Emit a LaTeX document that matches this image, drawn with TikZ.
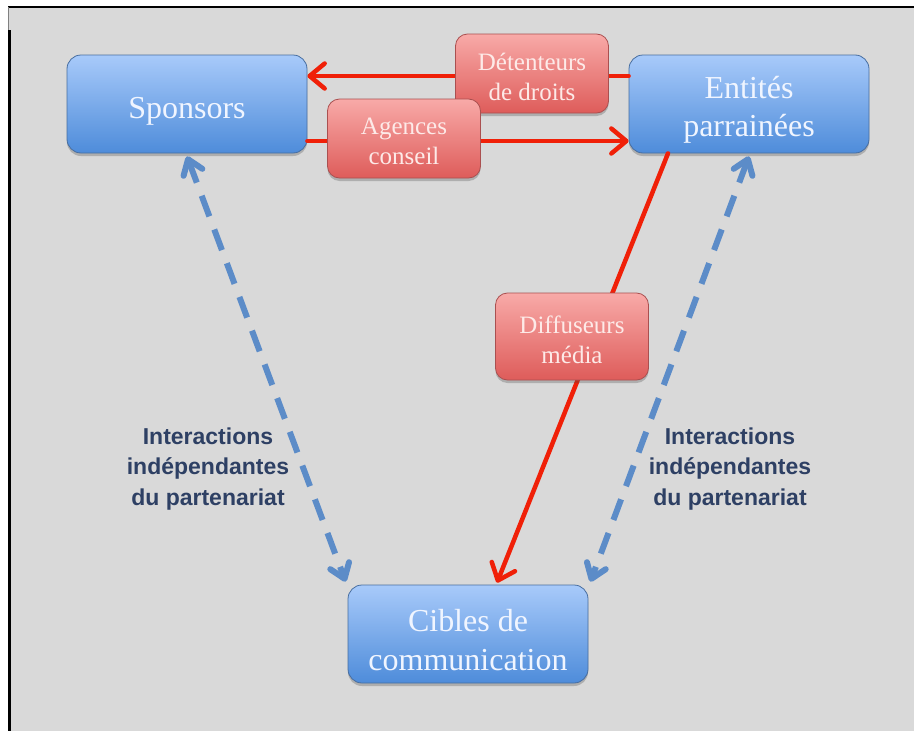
\documentclass[tikz,border=0pt]{standalone}
\usepackage{fontspec}
\setmainfont{Liberation Serif}
\newfontfamily\lblfont{Liberation Sans}
\usetikzlibrary{arrows.meta,shadows}

\definecolor{pagegray}{RGB}{217,217,217}
\definecolor{bluetop}{RGB}{168,202,250}
\definecolor{bluebot}{RGB}{78,140,218}
\definecolor{blueedge}{RGB}{72,110,160}
\definecolor{redtop}{RGB}{248,170,168}
\definecolor{redbot}{RGB}{222,92,90}
\definecolor{rededge}{RGB}{170,80,80}
\definecolor{flowred}{RGB}{240,32,8}
\definecolor{dashblue}{RGB}{92,140,200}
\definecolor{navytext}{RGB}{46,64,100}
\definecolor{boxtext}{RGB}{240,245,255}
\definecolor{redtext}{RGB}{253,234,232}

\tikzset{
  actor/.style={draw=blueedge, line width=0.8pt, rounded corners=14pt,
    top color=bluetop, bottom color=bluebot,
    minimum width=240pt, minimum height=98pt, inner sep=0pt,
    drop shadow={shadow xshift=0pt, shadow yshift=-3pt, opacity=0.3, fill=black!70}},
  actortext/.style={align=center, text=boxtext, inner sep=0pt, yshift=-6pt,
    font=\fontsize{32}{38.5}\selectfont},
  broker/.style={draw=rededge, line width=0.8pt, rounded corners=12pt,
    top color=redtop, bottom color=redbot,
    minimum width=153pt, minimum height=79pt, inner sep=0pt,
    drop shadow={shadow xshift=0pt, shadow yshift=-3pt, opacity=0.3, fill=black!70}},
  brokertext/.style={align=center, text=redtext, inner sep=0pt, yshift=-3pt,
    font=\fontsize{25}{30}\selectfont},
  flow/.style={draw=flowred, line width=4.5pt, line cap=round, line join=round,
    -{Straight Barb[length=15pt,width=25pt,line cap=round,line join=round]}},
  interplay/.style={draw=dashblue, line width=6pt, dash pattern=on 22pt off 14pt,
    {Straight Barb[length=14pt,width=20pt,line cap=round,line join=round]}-{Straight Barb[length=14pt,width=20pt,line cap=round,line join=round]}},
  note/.style={align=center, text=navytext,
    font=\lblfont\bfseries\fontsize{23}{30.5}\selectfont}
}

\begin{document}
\begin{tikzpicture}[x=1pt,y=-1pt]
  \useasboundingbox (0,0) rectangle (914,731);

  % page panel with its black top and left rules
  \fill[pagegray] (8,7) rectangle (914,731);
  \draw[black, line width=1.5pt] (8,7) -- (914,7);
  \draw[black, line width=2.5pt] (9.5,30) -- (9.5,731);
  \draw[gray, line width=0.6pt] (8,7) -- (8,30);

  % main parties
  \node[actor, label={[actortext, yshift=-1pt]center:Sponsors}] (sponsors) at (187,104) {};
  \node[actor, label={[actortext]center:Entités\\parrainées}] (entites) at (749,104) {};
  \node[actor, label={[actortext]center:Cibles de\\communication}] (cibles) at (468,634) {};

  % flows through intermediaries
  \draw[flow] ([yshift=28pt]entites.west) -- ([yshift=28pt]sponsors.east);
  \draw[flow] ([yshift=-37pt]sponsors.east) -- ([yshift=-37pt]entites.west);
  \draw[flow] ([xshift=-81pt]entites.south) -- ([xshift=29pt,yshift=2pt]cibles.north);

  % intermediaries on top of the flows
  \node[broker, label={[brokertext]center:Détenteurs\\de droits}] (detenteurs) at (532,73.5) {};
  \node[broker, label={[brokertext]center:Agences\\conseil}] (agences) at (404,138.5) {};
  \node[broker, minimum height=87pt, label={[brokertext]center:Diffuseurs\\média}] (diffuseurs) at (572,336.5) {};

  % interactions outside the partnership
  \draw[interplay] ([yshift=-3pt]sponsors.south) -- ([xshift=-2pt,yshift=3pt]cibles.north west);
  \draw[interplay] ([yshift=-3pt]entites.south) -- ([xshift=2pt,yshift=3pt]cibles.north east);

  \node[note] (gauche) at (208,469) {Interactions\\indépendantes\\du partenariat};
  \node[note] (droite) at (730,469) {Interactions\\indépendantes\\du partenariat};
\end{tikzpicture}
\end{document}
